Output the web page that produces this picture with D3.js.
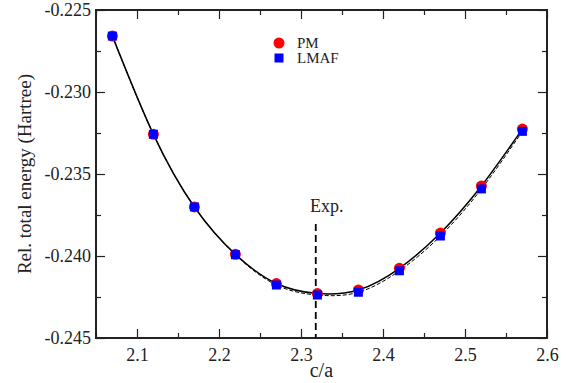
<!DOCTYPE html>
<html>
<head>
<meta charset="utf-8">
<script src="https://cdn.jsdelivr.net/npm/d3@7"></script>
<style>
  body { margin: 0; background: #fff; }
  svg { display: block; }
</style>
</head>
<body>
<div id="chart"></div>
<script>
// c/a ratios and relative energies
const cRatio = [2.07, 2.12, 2.17, 2.22, 2.27, 2.32, 2.37, 2.42, 2.47, 2.52, 2.57];
const pmEnergy = [-0.22659, -0.23258, -0.23701, -0.23990, -0.24168, -0.24229, -0.24207, -0.24075, -0.23860, -0.23573, -0.23226];
const lmafEnergy = [-0.22659, -0.23258, -0.23701, -0.23992, -0.24177, -0.24238, -0.24221, -0.24090, -0.23878, -0.23591, -0.23240];
const xTicks = [2.1, 2.2, 2.3, 2.4, 2.5, 2.6];
const yTicks = [-0.245, -0.240, -0.235, -0.230, -0.225];
const expRatio = 2.318;

const FONT = '"Liberation Serif", "Times New Roman", "DejaVu Serif", serif';
const W = 570, H = 383;
const margin = {top: 10, right: 23, bottom: 45, left: 96};
const width = W - margin.left - margin.right;
const height = H - margin.top - margin.bottom;

const svg = d3.select("#chart").append("svg")
  .attr("width", W).attr("height", H)
  .attr("font-family", FONT);
const chart = svg.append("g")
  .attr("transform", "translate(" + margin.left + "," + margin.top + ")");

const x = d3.scaleLinear().domain([2.05, 2.6]).range([0, width]);
const y = d3.scaleLinear().domain([-0.245, -0.225]).range([height, 0]);

// minor ticks halfway between majors
const xMinor = d3.range(2.05, 2.6, 0.1).map(v => +v.toFixed(2));
const yMinor = d3.range(-0.2425, -0.225, 0.005).map(v => +v.toFixed(4));

function tickLayer(axis, cls) {
  const g = chart.append("g").attr("class", cls).call(axis);
  g.attr("font-family", FONT);
  g.select(".domain").remove();
  g.selectAll("line").attr("stroke", "#222").attr("stroke-width", 1.2);
  g.selectAll("text").attr("fill", "#222");
  return g;
}

// bottom / top
tickLayer(d3.axisBottom(x).tickValues(xTicks).tickSize(-9).tickPadding(10).tickFormat(d3.format(".1f")), "axis axis--x")
  .attr("transform", "translate(0," + height + ")")
  .selectAll("text").attr("font-size", 18).attr("dy", "0.71em");
tickLayer(d3.axisBottom(x).tickValues(xMinor).tickSize(-5).tickFormat(""), "minor")
  .attr("transform", "translate(0," + height + ")");
tickLayer(d3.axisTop(x).tickValues(xTicks).tickSize(-9).tickFormat(""), "top");
tickLayer(d3.axisTop(x).tickValues(xMinor).tickSize(-5).tickFormat(""), "top minor");

// left / right
tickLayer(d3.axisLeft(y).tickValues(yTicks).tickSize(-9).tickPadding(5).tickFormat(d => d.toFixed(3)), "axis axis--y")
  .selectAll("text").attr("font-size", 18).attr("x", -5);
tickLayer(d3.axisLeft(y).tickValues(yMinor).tickSize(-5).tickFormat(""), "minor");
tickLayer(d3.axisRight(y).tickValues(yTicks).tickSize(-9).tickFormat(""), "right")
  .attr("transform", "translate(" + width + ",0)");
tickLayer(d3.axisRight(y).tickValues(yMinor).tickSize(-5).tickFormat(""), "right minor")
  .attr("transform", "translate(" + width + ",0)");

// frame
chart.append("rect")
  .attr("width", width).attr("height", height)
  .attr("fill", "none").attr("stroke", "#222").attr("stroke-width", 2);

// fitted curves
const pmData = cRatio.map((c, i) => ({c: c, e: pmEnergy[i]}));
const lmafData = cRatio.map((c, i) => ({c: c, e: lmafEnergy[i]}));
const line = d3.line()
  .x(d => x(d.c))
  .y(d => y(d.e))
  .curve(d3.curveNatural);

chart.append("path").datum(pmData)
  .attr("d", line).attr("fill", "none")
  .attr("stroke", "#000").attr("stroke-width", 1.5);
chart.append("path").datum(lmafData)
  .attr("d", line).attr("fill", "none")
  .attr("stroke", "#000").attr("stroke-width", 1)
  .attr("stroke-dasharray", "4,2");

// experimental c/a
chart.append("line")
  .attr("x1", x(expRatio)).attr("x2", x(expRatio))
  .attr("y1", y(-0.23805)).attr("y2", height)
  .attr("stroke", "#000").attr("stroke-width", 1.8)
  .attr("stroke-dasharray", "7,4");
chart.append("text")
  .attr("x", x(expRatio) + 11).attr("y", y(-0.23805) - 12)
  .attr("text-anchor", "middle").attr("font-size", 18).attr("fill", "#222")
  .text("Exp.");

// markers
chart.selectAll(".pm").data(pmData).enter().append("circle")
  .attr("class", "pm")
  .attr("cx", d => x(d.c)).attr("cy", d => y(d.e))
  .attr("r", 5.5).attr("fill", "#ff0000");
chart.selectAll(".lmaf").data(lmafData).enter().append("rect")
  .attr("class", "lmaf")
  .attr("x", d => x(d.c) - 4.5).attr("y", d => y(d.e) - 4.5)
  .attr("width", 9).attr("height", 9).attr("fill", "#0000ff");

// legend
const legend = chart.append("g").attr("transform", "translate(183,33)");
legend.append("circle").attr("cx", 0).attr("cy", 0).attr("r", 5.5).attr("fill", "#ff0000");
legend.append("text").attr("x", 18).attr("y", 5).attr("font-size", 15).attr("fill", "#222").text("PM");
legend.append("rect").attr("x", -4.5).attr("y", 10.5).attr("width", 9).attr("height", 9).attr("fill", "#0000ff");
legend.append("text").attr("x", 18).attr("y", 20).attr("font-size", 15).attr("fill", "#222").text("LMAF");

// axis titles
svg.append("text")
  .attr("x", margin.left + x(2.32) + 4).attr("y", 377)
  .attr("text-anchor", "middle").attr("font-size", 20).attr("fill", "#222")
  .text("c/a");
svg.append("text")
  .attr("transform", "translate(31," + 174 + ") rotate(-90)")
  .attr("text-anchor", "middle").attr("font-size", 19).attr("fill", "#222")
  .text("Rel. total energy (Hartree)");
</script>
</body>
</html>
